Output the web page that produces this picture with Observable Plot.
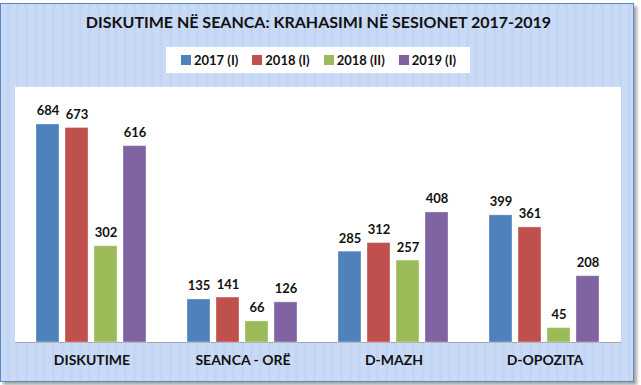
<!DOCTYPE html>
<html>
<head>
<meta charset="utf-8">
<script src="https://cdn.jsdelivr.net/npm/d3@7"></script>
<script src="https://cdn.jsdelivr.net/npm/@observablehq/plot@0.6"></script>
<style>
  html, body { margin: 0; padding: 0; background: #ffffff; }
  #wrap { position: relative; width: 641px; height: 385px; overflow: hidden; font-family: Lato, "Open Sans", sans-serif; }
  #frame {
    position: absolute; left: 0px; top: 3px; width: 632px; height: 377px;
    border: 1.5px solid #5b88c4;
    background: repeating-linear-gradient(90deg, #c9daf6 0px, #c9daf6 6px, #c3d5f3 6px, #c3d5f3 9px);
    box-shadow: 3px 3px 3px rgba(0,0,0,0.35);
  }
  #plotbg { position: absolute; left: 15px; top: 87px; width: 606px; height: 255px; background: #fff; border-bottom: 1px solid #a6a6a6; }
  #title {
    position: absolute; left: 0; width: 637px; top: 12px; text-align: center;
    font-weight: 700; font-size: 16px; color: #111; white-space: nowrap;
  }
  #legend {
    position: absolute; left: 166px; top: 47px; width: 289px; height: 26px; padding-left: 15px;
    background: #fff; display: flex; align-items: center; justify-content: flex-start;
    font-weight: 700; font-size: 13px; color: #111; white-space: nowrap;
  }
  .item { display: flex; align-items: center; margin-right: 14px; flex-shrink: 0; }
  .sw { width: 10px; height: 10px; margin-right: 3px; flex-shrink: 0; }
  #chart { position: absolute; left: 0; top: 87px; }
</style>
</head>
<body>
<div id="wrap">
  <div id="frame"></div>
  <div id="plotbg"></div>
  <div id="title"></div>
  <div id="legend"></div>
  <div id="chart"></div>
</div>
<script>
const titleText = "DISKUTIME NË SEANCA: KRAHASIMI NË SESIONET 2017-2019";
const categories = ["DISKUTIME", "SEANCA - ORË", "D-MAZH", "D-OPOZITA"];
const series = ["2017 (I)", "2018 (I)", "2018 (II)", "2019 (I)"];
const colors = ["#4f81bd", "#c0504d", "#9bbb59", "#8064a2"];
const values2017I = [684, 135, 285, 399];
const values2018I = [673, 141, 312, 361];
const values2018II = [302, 66, 257, 45];
const values2019I = [616, 126, 408, 208];
const yMax = 800;

const seriesValues = [values2017I, values2018I, values2018II, values2019I];
const data = [];
categories.forEach((c, i) => {
  series.forEach((s, j) => data.push({category: c, series: s, value: seriesValues[j][i]}));
});

document.getElementById("title").textContent = titleText;
const legend = document.getElementById("legend");
series.forEach((s, j) => {
  const it = document.createElement("div");
  it.className = "item";
  const sw = document.createElement("div");
  sw.className = "sw";
  sw.style.background = colors[j];
  const t = document.createElement("span");
  t.textContent = s;
  it.appendChild(sw); it.appendChild(t);
  legend.appendChild(it);
});

const chart = Plot.plot({
  width: 641,
  height: 298,
  marginLeft: 15,
  marginRight: 20,
  marginTop: 0,
  marginBottom: 43,
  style: {fontFamily: "Lato, 'Open Sans', sans-serif", background: "transparent", color: "#111"},
  fx: {domain: categories, paddingInner: 0.25, paddingOuter: 0.125, label: null, axis: null},
  x: {domain: series, paddingInner: 0.2, paddingOuter: 0, axis: null},
  y: {domain: [0, yMax], axis: null},
  color: {domain: series, range: colors},
  marks: [
    Plot.barY(data, {fx: "category", x: "series", y: "value", fill: "series", stroke: "#ffffff", strokeOpacity: 0.35, strokeWidth: 1}),
    Plot.text(data, {fx: "category", x: "series", y: "value", text: d => String(d.value), lineAnchor: "bottom", dy: -9, fontWeight: "bold", fontSize: 13, fill: "#111"}),
    Plot.axisFx({anchor: "bottom", tickSize: 0, tickPadding: 13, fontWeight: "bold", fontSize: 14, label: null, fill: "#111"})
  ]
});
document.getElementById("chart").appendChild(chart);
</script>
</body>
</html>
